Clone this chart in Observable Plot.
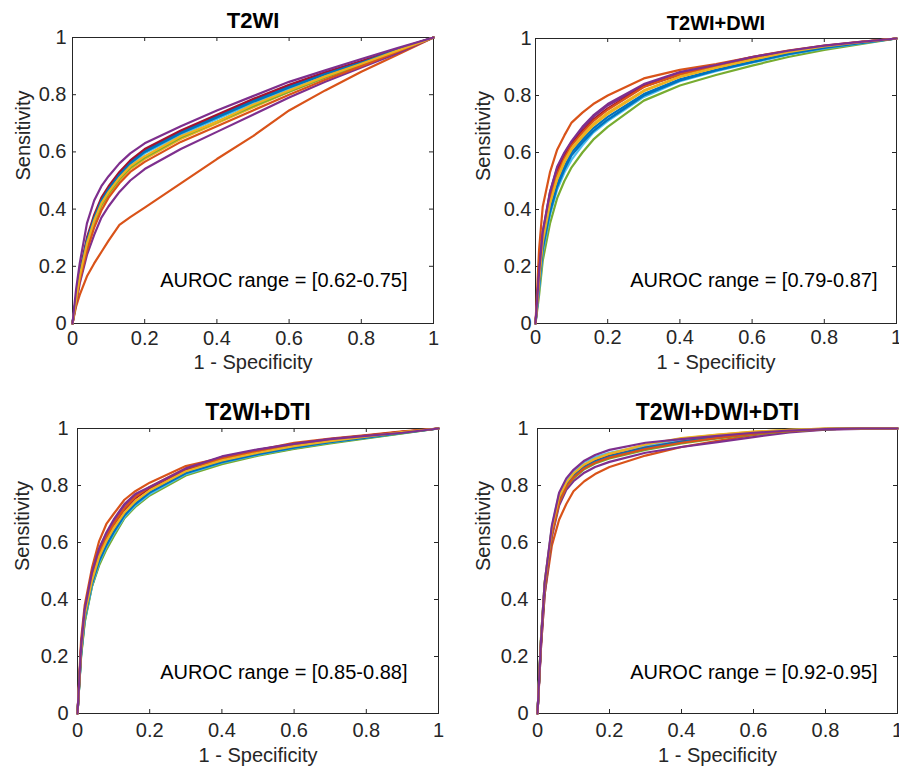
<!DOCTYPE html>
<html><head><meta charset="utf-8">
<script src="https://cdn.jsdelivr.net/npm/d3@7"></script>
<script src="https://cdn.jsdelivr.net/npm/@observablehq/plot@0.6"></script>
<style>
html,body{margin:0;padding:0;background:#fff;}
body{width:899px;height:767px;overflow:hidden;position:relative;font-family:"Liberation Sans",Arial,sans-serif;}
.panel{position:absolute;}
</style></head><body>
<div id="root"></div>
<script>
// ---------- DATA ----------
// False-positive-rate grid (1 - Specificity) at which each fold's ROC was read
const fprGrid = [0, 0.01, 0.02, 0.04, 0.06, 0.08, 0.1, 0.13, 0.16, 0.2, 0.3, 0.4, 0.5, 0.6, 0.7, 0.8, 0.9, 1];
const axisTicks = [0, 0.2, 0.4, 0.6, 0.8, 1];
const axisTickLabels = ["0", "0.2", "0.4", "0.6", "0.8", "1"];
const panelTitles = ["T2WI", "T2WI+DWI", "T2WI+DTI", "T2WI+DWI+DTI"];
const aurocTexts = ["AUROC range = [0.62-0.75]", "AUROC range = [0.79-0.87]", "AUROC range = [0.85-0.88]", "AUROC range = [0.92-0.95]"];
const xLabel = "1 - Specificity";
const yLabel = "Sensitivity";

// Sensitivity: one row per fprGrid point, one column per fold (fold numbers in *Folds)
const t2wiFolds = [1, 2, 3, 4, 5, 6, 7, 8, 9, 10, 11];
const t2wiSens = [
  [0,0,0,0,0,0,0,0,0,0,0],
  [.09,.06,.08,.07,.085,.09,.095,.09,.075,.085,.12],
  [.17,.10,.16,.14,.165,.17,.18,.17,.15,.165,.21],
  [.29,.165,.27,.24,.275,.285,.30,.29,.255,.28,.35],
  [.37,.21,.35,.31,.355,.365,.38,.37,.335,.36,.43],
  [.43,.25,.41,.37,.415,.425,.44,.43,.395,.42,.48],
  [.475,.29,.45,.41,.455,.465,.48,.47,.44,.46,.515],
  [.525,.345,.50,.46,.505,.515,.53,.52,.49,.51,.56],
  [.565,.372,.54,.50,.545,.555,.57,.56,.53,.55,.595],
  [.605,.405,.575,.54,.58,.595,.61,.60,.565,.585,.63],
  [.67,.49,.645,.61,.65,.66,.675,.665,.635,.655,.69],
  [.725,.575,.70,.67,.705,.715,.73,.72,.69,.705,.745],
  [.78,.655,.755,.73,.76,.77,.785,.775,.745,.765,.795],
  [.83,.745,.81,.79,.81,.82,.835,.825,.80,.815,.845],
  [.875,.815,.86,.845,.86,.868,.878,.872,.852,.864,.885],
  [.915,.88,.905,.895,.905,.91,.918,.912,.90,.908,.925],
  [.958,.94,.952,.945,.953,.955,.96,.957,.95,.954,.963],
  [1,1,1,1,1,1,1,1,1,1,1]
];

const dwiFolds = [5, 6, 8, 1, 3, 10, 9, 7, 4, 11, 2];
const dwiSens = [
  [0,0,0,0,0,0,0,0,0,0,0],
  [.10,.12,.13,.14,.15,.15,.16,.17,.18,.18,.26],
  [.22,.25,.26,.27,.28,.285,.30,.31,.32,.32,.41],
  [.35,.38,.39,.40,.42,.42,.44,.45,.46,.46,.53],
  [.44,.47,.48,.49,.505,.51,.525,.535,.545,.55,.61],
  [.50,.53,.54,.55,.565,.57,.58,.59,.595,.60,.66],
  [.548,.575,.59,.60,.61,.615,.625,.63,.636,.64,.705],
  [.60,.625,.635,.645,.655,.66,.67,.675,.685,.69,.74],
  [.645,.67,.675,.685,.695,.70,.71,.715,.725,.73,.77],
  [.69,.71,.715,.725,.735,.74,.75,.755,.765,.77,.80],
  [.782,.795,.80,.805,.815,.818,.83,.832,.835,.84,.86],
  [.835,.85,.853,.857,.865,.867,.875,.873,.88,.882,.89],
  [.872,.885,.888,.89,.897,.898,.905,.903,.905,.907,.91],
  [.905,.915,.917,.92,.925,.926,.935,.93,.932,.935,.935],
  [.935,.943,.945,.947,.952,.952,.958,.955,.956,.957,.955],
  [.96,.965,.967,.968,.972,.972,.975,.973,.974,.975,.972],
  [.98,.983,.984,.985,.987,.987,.988,.987,.987,.988,.986],
  [1,1,1,1,1,1,1,1,1,1,1]
];

const dtiFolds = [5, 1, 6, 8, 3, 10, 7, 9, 4, 11, 2];
const dtiSens = [
  [0,0,0,0,0,0,0,0,0,0,0],
  [.20,.205,.21,.21,.215,.22,.225,.23,.235,.235,.26],
  [.32,.325,.33,.335,.34,.345,.35,.355,.36,.365,.38],
  [.445,.447,.45,.455,.46,.465,.475,.48,.49,.495,.51],
  [.52,.525,.53,.535,.545,.55,.56,.565,.575,.58,.605],
  [.575,.58,.585,.59,.60,.605,.615,.62,.63,.635,.665],
  [.62,.625,.63,.635,.645,.65,.66,.665,.675,.68,.70],
  [.685,.688,.69,.695,.70,.705,.715,.72,.73,.735,.75],
  [.725,.728,.73,.735,.74,.745,.755,.76,.765,.77,.78],
  [.765,.768,.77,.775,.78,.783,.79,.795,.79,.795,.81],
  [.835,.838,.84,.843,.848,.85,.855,.86,.857,.86,.868],
  [.875,.878,.88,.882,.886,.888,.893,.895,.90,.902,.897],
  [.905,.907,.908,.91,.913,.915,.92,.922,.925,.927,.924],
  [.928,.93,.932,.933,.936,.938,.942,.944,.945,.946,.95],
  [.948,.95,.951,.952,.955,.956,.96,.962,.963,.963,.965],
  [.965,.967,.968,.968,.97,.971,.974,.975,.975,.974,.977],
  [.983,.984,.985,.985,.986,.987,.988,.988,.987,.985,.99],
  [1,1,1,1,1,1,1,1,1,1,1]
];

const allFolds = [2, 4, 5, 1, 8, 7, 9, 3, 10, 6, 11];
const allSens = [
  [0,0,0,0,0,0,0,0,0,0,0],
  [.24,.24,.26,.26,.26,.26,.25,.27,.27,.27,.26],
  [.42,.42,.44,.45,.45,.45,.44,.46,.46,.46,.46],
  [.59,.62,.63,.64,.64,.64,.63,.65,.65,.655,.66],
  [.68,.73,.74,.75,.75,.75,.74,.76,.76,.77,.775],
  [.735,.785,.795,.80,.80,.80,.795,.81,.81,.82,.825],
  [.78,.815,.825,.83,.832,.833,.828,.84,.842,.85,.855],
  [.815,.845,.857,.862,.864,.865,.86,.872,.874,.882,.887],
  [.84,.865,.877,.882,.884,.885,.88,.892,.894,.90,.907],
  [.865,.883,.895,.90,.902,.903,.898,.91,.912,.915,.925],
  [.905,.915,.925,.93,.932,.933,.928,.942,.944,.94,.95],
  [.935,.935,.948,.952,.953,.954,.95,.965,.966,.96,.963],
  [.957,.952,.965,.968,.969,.97,.967,.978,.979,.975,.974],
  [.977,.97,.98,.982,.983,.984,.982,.988,.989,.986,.985],
  [.99,.986,.991,.992,.993,.993,.992,.995,.995,.994,.993],
  [.997,.996,.998,.998,.998,.999,.998,1,1,.999,.998],
  [1,.999,1,1,1,1,1,1,1,1,1],
  [1,1,1,1,1,1,1,1,1,1,1]
];

// ---------- STYLE / LAYOUT ----------
const matlabColors = ["#0072BD", "#D95319", "#EDB120", "#7E2F8E", "#77AC30", "#4DBEEE", "#A2142F"];
const foldDomain = d3.range(1, 12);
const foldColors = foldDomain.map(f => matlabColors[(f - 1) % 7]);

const layouts = [
  {left: 0,   top: 0,   w: 450, h: 383, ml: 72, mr: 17, mt: 37, mb: 60, titleSize: 22, titleDy: -16.3, xtDy: 15, xlDy: 39, ytDx: -6, ylDx: -49, aDx: -26, aDy: -43},
  {left: 450, top: 0,   w: 449, h: 383, ml: 85, mr: 3,  mt: 38, mb: 60, titleSize: 20, titleDy: -14.7, xtDy: 14, xlDy: 39, ytDx: -4, ylDx: -52, aDx: -19, aDy: -43},
  {left: 0,   top: 385, w: 450, h: 382, ml: 77, mr: 12, mt: 43, mb: 54, titleSize: 23, titleDy: -16.3, xtDy: 17, xlDy: 42, ytDx: -9, ylDx: -55, aDx: -31, aDy: -41},
  {left: 450, top: 385, w: 449, h: 382, ml: 87, mr: 2,  mt: 43, mb: 54, titleSize: 23, titleDy: -16.3, xtDy: 17, xlDy: 42, ytDx: -9, ylDx: -54, aDx: -20, aDy: -41}
];

const panelData = [[t2wiFolds, t2wiSens], [dwiFolds, dwiSens], [dtiFolds, dtiSens], [allFolds, allSens]];

function buildTable(folds, sens) {
  const out = [];
  folds.forEach((f, c) => sens.forEach((row, i) => out.push({fold: f, fpr: fprGrid[i], sens: row[c]})));
  return out.sort((a, b) => (a.fold - b.fold) || (a.fpr - b.fpr));
}

const root = document.getElementById("root");
const axisColor = "#262626";
const tickLen = 4;
const fontSz = 20;

panelData.forEach(([folds, sens], p) => {
  const L = layouts[p];
  const plotW = L.w - L.ml - L.mr;
  const plotH = L.h - L.mt - L.mb;
  const data = buildTable(folds, sens);
  const chart = Plot.plot({
    width: L.w, height: L.h,
    marginLeft: L.ml, marginRight: L.mr, marginTop: L.mt, marginBottom: L.mb,
    x: {domain: [0, 1], axis: null},
    y: {domain: [0, 1], axis: null},
    color: {type: "ordinal", domain: foldDomain, range: foldColors},
    style: {fontFamily: "'Liberation Sans', Arial, sans-serif", background: "transparent"},
    marks: [
      Plot.frame({stroke: axisColor, strokeWidth: 1}),
      Plot.ruleX(axisTicks, {x: d => d, insetTop: plotH - tickLen, stroke: axisColor}),
      Plot.ruleX(axisTicks, {x: d => d, insetBottom: plotH - tickLen, stroke: axisColor}),
      Plot.ruleY(axisTicks, {y: d => d, insetRight: plotW - tickLen, stroke: axisColor}),
      Plot.ruleY(axisTicks, {y: d => d, insetLeft: plotW - tickLen, stroke: axisColor}),
      Plot.line(data, {x: "fpr", y: "sens", z: "fold", stroke: "fold", strokeWidth: 2.2, strokeLinejoin: "round"}),
      Plot.text(axisTicks, {x: d => d, text: (d, i) => axisTickLabels[i], frameAnchor: "bottom", lineAnchor: "middle", dy: L.xtDy, fontSize: fontSz, fill: axisColor}),
      Plot.text(axisTicks, {y: d => d, text: (d, i) => axisTickLabels[i], frameAnchor: "left", lineAnchor: "middle", textAnchor: "end", dx: L.ytDx, fontSize: fontSz, fill: axisColor}),
      Plot.text([xLabel], {frameAnchor: "bottom", lineAnchor: "middle", dy: L.xlDy, fontSize: fontSz, fill: axisColor}),
      Plot.text([yLabel], {frameAnchor: "left", lineAnchor: "middle", rotate: -90, dx: L.ylDx, fontSize: fontSz, fill: axisColor}),
      Plot.text([panelTitles[p]], {frameAnchor: "top", lineAnchor: "middle", dy: L.titleDy, fontSize: L.titleSize, fontWeight: "bold", fill: "#000"}),
      Plot.text([aurocTexts[p]], {frameAnchor: "bottom-right", lineAnchor: "middle", textAnchor: "end", dx: L.aDx, dy: L.aDy, fontSize: fontSz, fill: "#000"})
    ]
  });
  const div = document.createElement("div");
  div.className = "panel";
  div.style.left = L.left + "px";
  div.style.top = L.top + "px";
  div.appendChild(chart);
  root.appendChild(div);
});
</script>
</body></html>
